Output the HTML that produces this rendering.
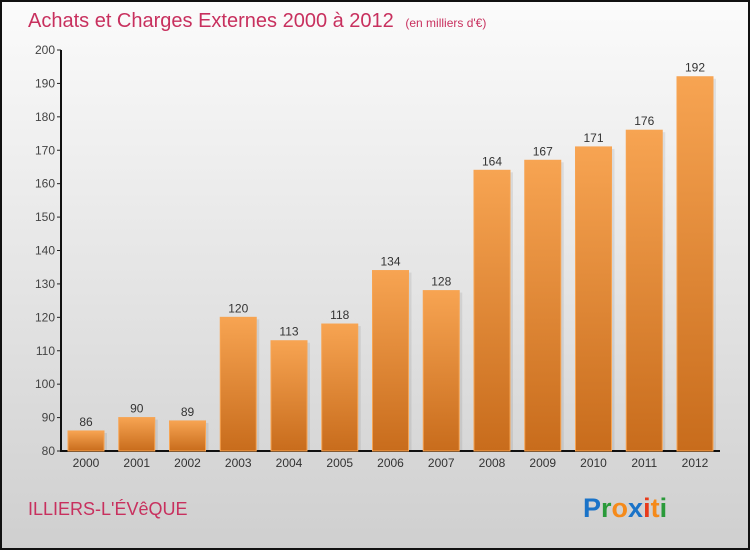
<!DOCTYPE html>
<html><head><meta charset="utf-8"><style>
body{margin:0;width:750px;height:550px;overflow:hidden;font-family:"Liberation Sans",sans-serif}
</style></head><body>
<svg width="750" height="550" xmlns="http://www.w3.org/2000/svg">
<defs>
<linearGradient id="bg" x1="0" y1="0" x2="0" y2="1"><stop offset="0" stop-color="#fbfbfb"/><stop offset="1" stop-color="#cfcfcf"/></linearGradient>
<linearGradient id="bar" x1="0" y1="0" x2="0" y2="1"><stop offset="0" stop-color="#f7a452"/><stop offset="1" stop-color="#c86c1c"/></linearGradient>
</defs>
<rect x="1" y="1" width="748" height="548" fill="url(#bg)" stroke="#111" stroke-width="2"/>
<text x="28" y="27" font-size="20" fill="#c8305e">Achats et Charges Externes 2000 à 2012 <tspan font-size="12" dx="6">(en milliers d'€)</tspan></text>
<g id="yaxis"></g>
<g id="bars"></g>
<text x="28" y="515" font-size="18" fill="#c8305e">ILLIERS-L'ÉVêQUE</text>
<g font-size="27" font-weight="bold">
<text x="583" y="517"><tspan fill="#1a73c8">P</tspan><tspan fill="#2a9a3a">r</tspan><tspan fill="#f58a1a">o</tspan><tspan fill="#1a73c8">x</tspan><tspan fill="#e83a1a">i</tspan><tspan fill="#f58a1a">t</tspan><tspan fill="#2a9a3a">i</tspan></text>
</g>
</svg>
<script>
const categories=["2000","2001","2002","2003","2004","2005","2006","2007","2008","2009","2010","2011","2012"];
const values=[86,90,89,120,113,118,134,128,164,167,171,176,192];
const yTicks=[80,90,100,110,120,130,140,150,160,170,180,190,200];
const NS="http://www.w3.org/2000/svg";
const y=v=>451-(v-80)*(401/120);
const x=i=>86+i*50.75;
function mk(t,a,p){const e=document.createElementNS(NS,t);for(const k in a)e.setAttribute(k,a[k]);p.appendChild(e);return e;}
const ya=document.getElementById('yaxis'),bg=document.getElementById('bars');
yTicks.forEach(t=>{
 const l=mk('line',{x1:57,x2:61,y1:y(t),y2:y(t),stroke:'#222'},ya);
 
 
 const tx=mk('text',{x:55,y:y(t)+4,'text-anchor':'end','font-size':12,fill:'#444'},ya);tx.textContent=t;
 
 
});
values.forEach((v,i)=>{
 const s=mk('rect',{x:x(i)-18+3,y:y(v)+2,width:36,height:451-y(v)-2,fill:'#000',opacity:0.08},bg);
 
 
 const r=mk('rect',{x:x(i)-18,y:y(v),width:36,height:451-y(v),fill:'url(#bar)',stroke:'#f7a452','stroke-width':1},bg);
 
 
 const vl=mk('text',{x:x(i),y:y(v)-5,'text-anchor':'middle','font-size':12,fill:'#333'},bg);vl.textContent=v;
 
 
 const cl=mk('text',{x:x(i),y:467,'text-anchor':'middle','font-size':12,fill:'#333'},bg);cl.textContent=categories[i];
 
 
});
const ax=mk('path',{d:'M61 50 V451 H720',stroke:'#111','stroke-width':2,fill:'none'},ya);


</script>
</body></html>
